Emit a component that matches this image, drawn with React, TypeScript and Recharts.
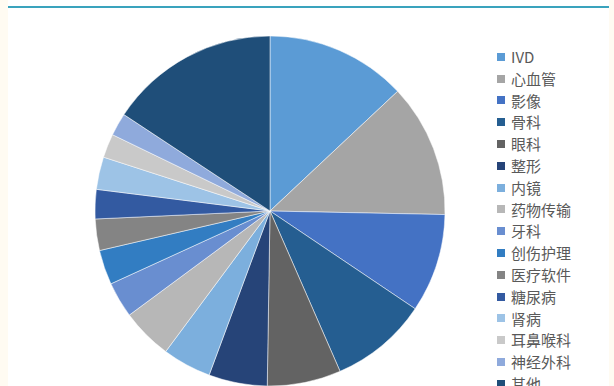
import React from 'react';
import { PieChart, Pie, Cell, Legend } from 'recharts';

const categories = ['IVD', '心血管', '影像', '骨科', '眼科', '整形', '内镜', '药物传输', '牙科', '创伤护理', '医疗软件', '糖尿病', '肾病', '耳鼻喉科', '神经外科', '其他'];
const shares = [13.0, 12.3, 9.1, 9.0, 6.8, 5.4, 4.5, 4.7, 3.3, 3.2, 2.9, 2.7, 3.0, 2.2, 2.1, 15.7];
const colors = ['#5B9BD5', '#A5A5A5', '#4472C4', '#255E91', '#636363', '#264478', '#7CAFDD', '#B7B7B7', '#698ED0', '#327DC2', '#848484', '#335AA1', '#9DC3E6', '#C9C9C9', '#8FAADC', '#1F4E79'];

const data = categories.map((name, i) => ({ name, value: shares[i] }));

const renderLegend = () => (
  <div style={{ fontFamily: '"Noto Sans CJK SC", "Noto Sans", sans-serif', textAlign: 'left' }}>
    {categories.map((c, i) => (
      <div key={c} style={{ display: 'flex', alignItems: 'center', height: 21.8 }}>
        <span style={{ display: 'inline-block', width: 8, height: 8, background: colors[i], marginRight: 6 }} />
        <span style={{ fontSize: 15, color: '#595959', lineHeight: '21.8px', whiteSpace: 'nowrap' }}>{c}</span>
      </div>
    ))}
  </div>
);

export default function App() {
  return (
    <div style={{ position: 'relative', width: 614, height: 386, background: '#FFFBF2', overflow: 'hidden' }}>
      <style>{`body{margin:0}`}</style>
      <div style={{ position: 'absolute', left: 8, top: 0, width: 601, height: 386, background: '#FFFFFF' }} />
      <div style={{ position: 'absolute', left: 8, top: 6, width: 601, height: 2, background: '#3AA3BD' }} />
      <div style={{ position: 'absolute', left: 0, top: 0 }}>
        <PieChart width={614} height={386} margin={{ top: 0, right: 0, bottom: 0, left: 0 }}>
          <Pie
            data={data}
            dataKey="value"
            nameKey="name"
            cx={270}
            cy={211}
            outerRadius={175}
            startAngle={90}
            endAngle={-270}
            stroke="#FFFFFF"
            strokeWidth={0.5}
            isAnimationActive={false}
          >
            {data.map((d, i) => (
              <Cell key={d.name} fill={colors[i]} />
            ))}
          </Pie>
          <Legend
            layout="vertical"
            verticalAlign="top"
            align="right"
            content={renderLegend}
            wrapperStyle={{ left: 497, top: 46, width: 110, right: 'auto' }}
          />
        </PieChart>
      </div>
    </div>
  );
}
